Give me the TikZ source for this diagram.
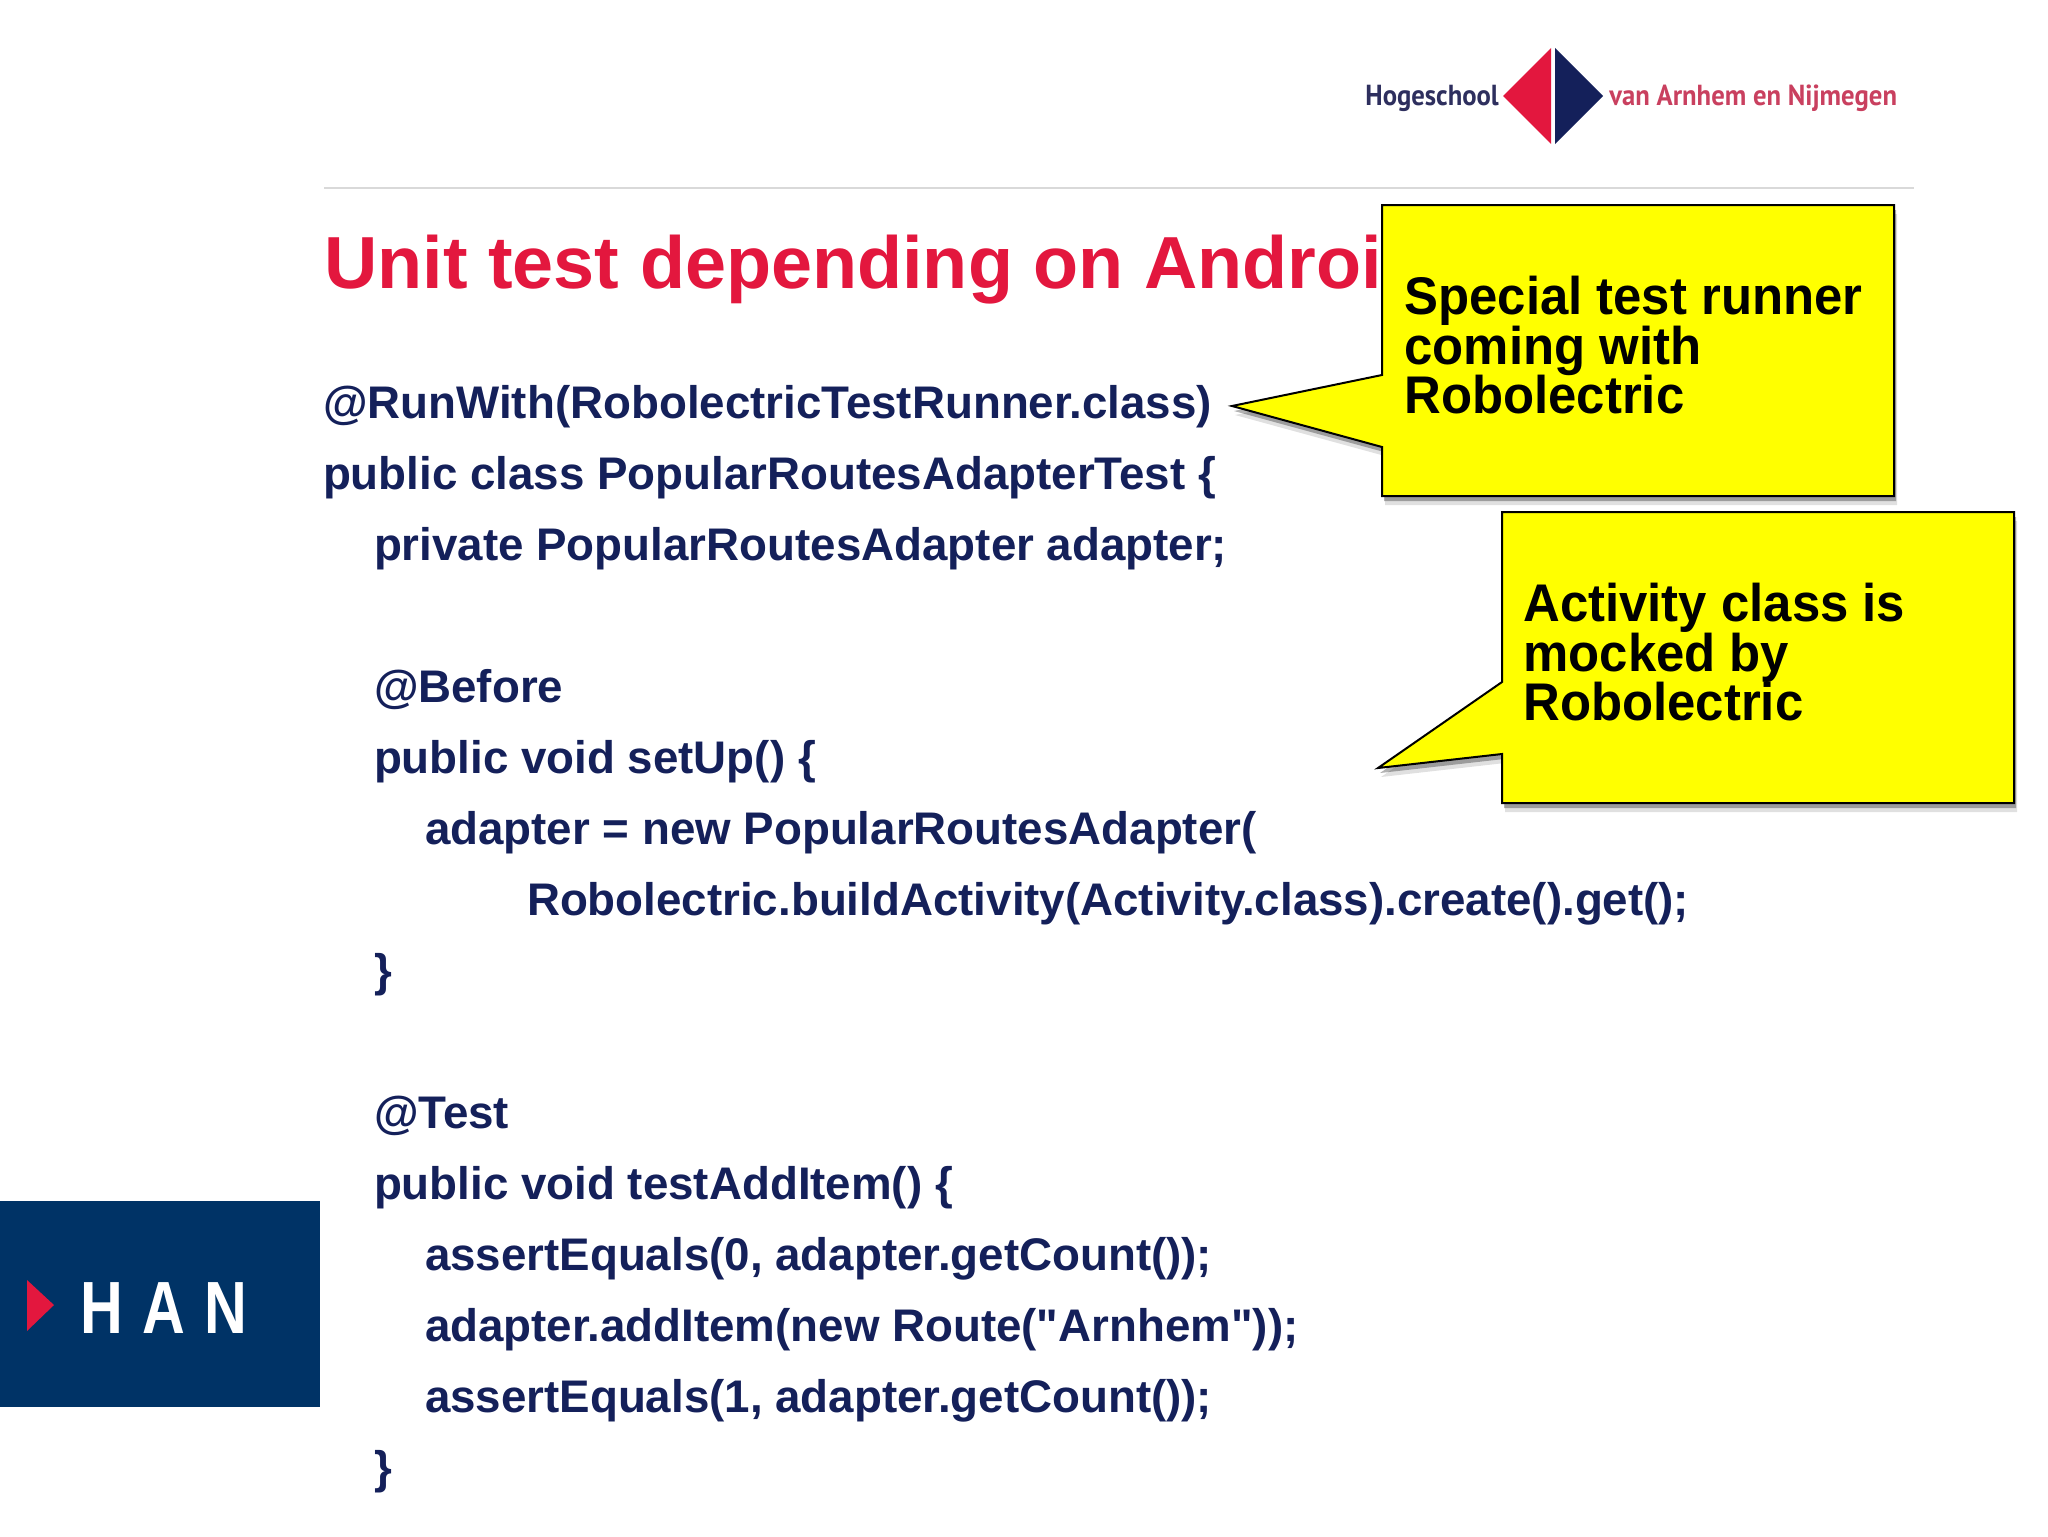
\documentclass[tikz,border=0pt]{standalone}
\usepackage{fontspec}
\setmainfont{Liberation Sans}
\newfontfamily\notefont[FakeStretch=0.96]{Liberation Sans}
\newfontfamily\hanfont[FakeStretch=0.8,LetterSpace=26]{Liberation Sans}
\newfontfamily\logofont[FakeStretch=0.92]{PT Sans}
\usetikzlibrary{matrix, positioning, shadows}
\definecolor{hanred}{HTML}{E3173E}
\definecolor{hannavy}{HTML}{14205A}
\definecolor{hanblue}{HTML}{003366}
\definecolor{noteyellow}{HTML}{FFFF00}
\definecolor{logored}{HTML}{C9405F}
\definecolor{logonavy}{HTML}{2E2F5E}
\tikzset{
  codeblock/.style={
    matrix of nodes,
    inner sep=0pt,
    outer sep=0pt,
    row sep=0pt,
    nodes={inner sep=0pt, outer sep=0pt, anchor=base west, text=hannavy,
      font=\bfseries\fontsize{22.85}{26}\selectfont},
    text height=25pt,
    text depth=10.5pt,
    column 1/.style={anchor=base west},
  },
  indenta/.style={xshift=25.5pt},
  indentb/.style={xshift=51pt},
  indentc/.style={xshift=102pt},
  note/.style={
    draw=black, line width=1pt, fill=noteyellow,
    drop shadow={shadow xshift=1.5pt, shadow yshift=-4.5pt, fill=black, opacity=0.12},
    drop shadow={shadow xshift=1pt, shadow yshift=-2.5pt, fill=black, opacity=0.3}
  },
  notetext/.style={
    anchor=north west, inner sep=0pt, align=left,
    font=\notefont\bfseries\fontsize{26.5}{24.5}\selectfont
  },
  logotext/.style={
    anchor=base west, inner sep=0pt,
    font=\logofont\bfseries\fontsize{14.5}{16}\selectfont
  }
}
\begin{document}
\begin{tikzpicture}[x=0.5pt, y=-0.5pt]
  \useasboundingbox (0,0) rectangle (2048,1536);
  % header
  \fill[hanred] (1503,96) -- (1551,48) -- (1551,144) -- cycle;
  \fill[hannavy] (1555,96) -- (1555,48) -- (1603,96) -- (1555,144) -- cycle;
  \node (hogeschool) [logotext, text=logonavy] at (1365,105) {Hogeschool};
  \node (arnhem) [logotext, text=logored] at (1609,105) {van Arnhem en Nijmegen};
  \draw[black!15, line width=1pt] (324,188) -- (1914,188);
  \node (title) [anchor=base west, inner sep=0pt, text=hanred, font=\bfseries\fontsize{36.9}{44}\selectfont] at (324,288) {Unit test depending on Androi};

  % code
  \matrix (code) [codeblock, anchor=north west] at (323,368) {
    @RunWith(RobolectricTestRunner.class) \\
    public class PopularRoutesAdapterTest \{ \\
    |[indenta]| private PopularRoutesAdapter adapter; \\[35.5pt]
    |[indenta]| @Before \\
    |[indenta]| public void setUp() \{ \\
    |[indentb]| adapter = new PopularRoutesAdapter( \\
    |[indentc]| Robolectric.buildActivity(Activity.class).create().get(); \\
    |[indenta]| \} \\[35.5pt]
    |[indenta]| @Test \\
    |[indenta]| public void testAddItem() \{ \\
    |[indentb]| assertEquals(0, adapter.getCount()); \\
    |[indentb]| adapter.addItem(new Route(\textquotedbl Arnhem\textquotedbl)); \\
    |[indentb]| assertEquals(1, adapter.getCount()); \\
    |[indenta]| \} \\
  };

  % callouts
  \draw[note] (1382,205) -- (1894,205) -- (1894,496) -- (1382,496) -- (1382,447) -- (1232,406) -- (1382,375) -- cycle;
  \node (runner) [notetext] at (1404,276) {Special test runner\\[-1pt]coming with\\[-1pt]Robolectric};
  \draw[note] (1502,512) -- (2014,512) -- (2014,803) -- (1502,803) -- (1502,754) -- (1378,768) -- (1502,682) -- cycle;
  \node (mocked) [notetext] at (1523,583) {Activity class is\\[-1pt]mocked by\\[-1pt]Robolectric};

  % school badge
  \fill[hanblue] (0,1201) rectangle (320,1407);
  \fill[hanred] (27,1280) -- (54,1305) -- (27,1331) -- cycle;
  \node (han) [anchor=base west, inner sep=0pt, text=white, font=\hanfont\bfseries\fontsize{37}{40}\selectfont] at (80,1333) {HAN};
\end{tikzpicture}
\end{document}
